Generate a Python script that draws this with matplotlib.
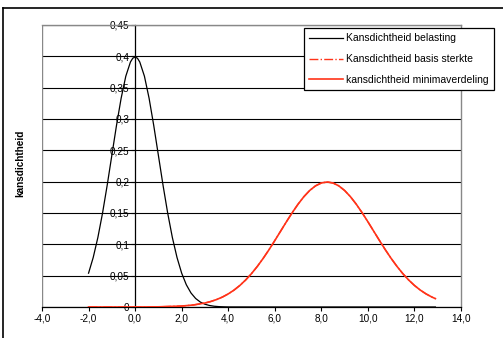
import matplotlib
matplotlib.use("Agg")
import matplotlib.pyplot as plt
from matplotlib.lines import Line2D

plt.rcParams['font.family'] = ['Liberation Sans', 'DejaVu Sans']

# Kansdichtheid belasting
x_belasting = [-2.0, -1.8, -1.6, -1.4, -1.2, -1.0, -0.8, -0.6, -0.4, -0.2, -0.1, 0.0,
               0.1, 0.2, 0.4, 0.6, 0.8, 1.0, 1.2, 1.4, 1.6, 1.8, 2.0,
               2.2, 2.4, 2.6, 2.8, 3.0, 3.2, 3.4, 3.6, 3.8, 4.0,
               6.0, 8.0, 10.0, 12.9]
y_belasting = [0.0540, 0.0790, 0.1109, 0.1497, 0.1942, 0.2420, 0.2897, 0.3332, 0.3683, 0.3910, 0.3970, 0.3989,
               0.3970, 0.3910, 0.3683, 0.3332, 0.2897, 0.2420, 0.1942, 0.1497, 0.1109, 0.0790, 0.0540,
               0.0355, 0.0224, 0.0136, 0.0079, 0.0044, 0.0024, 0.0012, 0.0006, 0.0003, 0.0001,
               0.0, 0.0, 0.0, 0.0]

# Kansdichtheid sterkte (basis en minimaverdeling)
x_sterkte = [-2.0, 0.0, 1.0, 2.0, 2.5, 3.0, 3.25, 3.5, 3.75, 4.0, 4.25, 4.5, 4.75,
             5.0, 5.25, 5.5, 5.75, 6.0, 6.25, 6.5, 6.75, 7.0, 7.25, 7.5, 7.75,
             8.0, 8.25, 8.5, 8.75, 9.0, 9.25, 9.5, 9.75, 10.0, 10.25, 10.5, 10.75,
             11.0, 11.25, 11.5, 11.75, 12.0, 12.25, 12.5, 12.75, 12.9]
y_sterkte = [0.0, 0.00004, 0.00028, 0.00151, 0.00320, 0.00636, 0.00876, 0.01189, 0.01587,
             0.02087, 0.02699, 0.03439, 0.04315,
             0.05328, 0.06477, 0.07751, 0.09132, 0.10594, 0.12098, 0.13602, 0.15056,
             0.16408, 0.17603, 0.18593, 0.19333,
             0.19792, 0.19947, 0.19792, 0.19333, 0.18593, 0.17603, 0.16408, 0.15056,
             0.13602, 0.12098, 0.10594, 0.09132,
             0.07751, 0.06477, 0.05328, 0.04315, 0.03439, 0.02699, 0.02087, 0.01587, 0.01337]

x_ticks = [-4, -2, 0, 2, 4, 6, 8, 10, 12, 14]
y_ticks = [0, 0.05, 0.1, 0.15, 0.2, 0.25, 0.3, 0.35, 0.4, 0.45]
y_ticklabels = ["0", "0,05", "0,1", "0,15", "0,2", "0,25", "0,3", "0,35", "0,4", "0,45"]
x_ticklabels = ["-4,0", "-2,0", "0,0", "2,0", "4,0", "6,0", "8,0", "10,0", "12,0", "14,0"]

labels = ["Kansdichtheid belasting", "Kansdichtheid basis sterkte",
          "kansdichtheid minimaverdeling"]
red = "#ff3319"

fig = plt.figure(figsize=(5.03, 3.38), dpi=100)
W, H = 503, 338

# outer chart frame (left and top edges)
fig.add_artist(Line2D([3 / W, 3 / W], [0, 1 - 8 / H], transform=fig.transFigure,
                      color="black", lw=1.2))
fig.add_artist(Line2D([3 / W, 1], [1 - 8 / H, 1 - 8 / H], transform=fig.transFigure,
                      color="black", lw=1.2))

ax = fig.add_axes([42 / W, 1 - 307 / H, (461 - 42) / W, (307 - 25) / H])
ax.set_xlim(-4, 14)
ax.set_ylim(0, 0.45)

for s in ["top", "right"]:
    ax.spines[s].set_color("#888888")
    ax.spines[s].set_linewidth(1.0)
ax.spines["left"].set_position(("data", 0))
ax.spines["left"].set_color("black")
ax.spines["left"].set_linewidth(0.9)
ax.spines["bottom"].set_color("black")
ax.spines["bottom"].set_linewidth(0.9)
ax.axvline(-4, color="#888888", lw=1.0, zorder=1)

ax.set_yticks(y_ticks)
ax.set_yticklabels(y_ticklabels)
ax.set_xticks(x_ticks)
ax.set_xticklabels(x_ticklabels)
ax.tick_params(axis="both", direction="out", length=3, width=0.8, labelsize=7.2,
               colors="black", pad=2)
ax.tick_params(axis="y", pad=1)
for lbl in ax.get_yticklabels():
    lbl.set_zorder(5)

ax.yaxis.grid(True, color="black", lw=0.8)
ax.set_axisbelow(True)

ax.plot(x_belasting, y_belasting, color="black", lw=0.9, label=labels[0], zorder=3)
ax.plot(x_sterkte, y_sterkte, color=red, lw=1.0, ls="-.", label=labels[1], zorder=3)
ax.plot(x_sterkte, y_sterkte, color=red, lw=1.2, label=labels[2], zorder=3)

fig.text(20 / W, 1 - 163 / H, "kansdichtheid", rotation=90, fontsize=7.2,
         fontweight="bold", ha="center", va="center")

leg = ax.legend(loc="upper left", bbox_to_anchor=(304 / W, 1 - 28 / H),
                bbox_transform=fig.transFigure, fontsize=7.5, frameon=True,
                fancybox=False, edgecolor="black", framealpha=1,
                handlelength=3.2, handletextpad=0.3, labelspacing=1.05,
                borderpad=0.5, borderaxespad=0)
leg.get_frame().set_linewidth(0.9)
leg.set_zorder(10)

fig.savefig("out.png", dpi=100)
